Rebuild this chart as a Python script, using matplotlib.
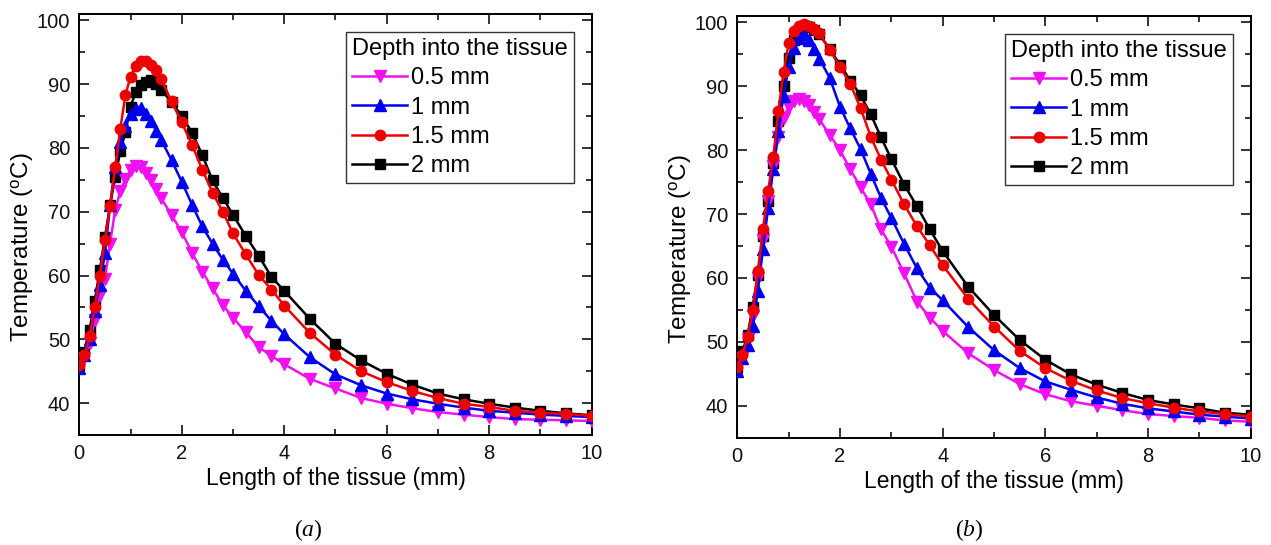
import matplotlib
matplotlib.use("Agg")
import matplotlib.pyplot as plt
from matplotlib.ticker import MultipleLocator

plt.rcParams['font.family'] = ['Liberation Sans', 'DejaVu Sans']
plt.rcParams['mathtext.fontset'] = 'custom'
plt.rcParams['mathtext.rm'] = 'Liberation Sans'
plt.rcParams['mathtext.it'] = 'Liberation Serif:italic'

# ---------------- data ----------------
x = [0, 0.1, 0.2, 0.3, 0.4, 0.5, 0.6, 0.7, 0.8, 0.9, 1.0, 1.1, 1.2, 1.3, 1.4,
     1.5, 1.6, 1.8, 2.0, 2.2, 2.4, 2.6, 2.8, 3.0, 3.25, 3.5, 3.75, 4.0, 4.5,
     5.0, 5.5, 6.0, 6.5, 7.0, 7.5, 8.0, 8.5, 9.0, 9.5, 10.0]

labels = ['0.5 mm', '1 mm', '1.5 mm', '2 mm']

# panel (a)
a_05 = [45.5, 47.0, 49.5, 53.0, 57.0, 59.5, 65.0, 70.3, 73.2, 75.2, 76.5, 77.2, 77.0, 76.1, 74.9,
        73.5, 72.1, 69.5, 66.8, 63.6, 60.6, 58.0, 55.4, 53.4, 51.1, 48.8, 47.4, 46.1, 43.8,
        42.3, 40.8, 39.9, 39.2, 38.6, 38.2, 37.8, 37.5, 37.4, 37.3, 37.2]
a_1 = [45.5, 47.5, 50.0, 54.5, 58.5, 63.5, 71.0, 77.0, 81.0, 83.5, 85.3, 86.1, 86.3, 85.4, 84.2,
       82.7, 81.2, 78.1, 74.7, 71.1, 67.7, 65.0, 62.5, 60.3, 57.6, 55.2, 52.9, 50.8, 47.2,
       44.5, 42.8, 41.5, 40.6, 39.9, 39.3, 38.8, 38.5, 38.2, 38.0, 37.8]
a_15 = [46.0, 47.5, 50.5, 55.0, 60.0, 65.6, 70.9, 77.0, 83.0, 88.3, 91.2, 92.9, 93.7, 93.6, 93.0,
        92.3, 90.8, 87.3, 84.0, 80.5, 76.6, 73.0, 70.0, 66.6, 63.3, 60.1, 57.8, 55.3, 51.0,
        47.6, 45.0, 43.3, 41.9, 40.8, 39.9, 39.4, 38.8, 38.5, 38.3, 38.0]
a_2 = [46.0, 48.0, 51.5, 56.0, 60.8, 66.0, 71.0, 75.5, 79.5, 82.5, 86.5, 88.7, 89.8, 90.4, 90.6,
       90.1, 89.1, 87.2, 85.0, 82.4, 78.9, 74.9, 72.2, 69.5, 66.2, 63.1, 59.8, 57.6, 53.2,
       49.3, 46.7, 44.6, 42.9, 41.5, 40.6, 39.9, 39.3, 38.8, 38.4, 38.1]

# panel (b)
b_05 = [46.0, 47.5, 50.5, 54.0, 60.0, 66.0, 72.0, 77.5, 82.0, 85.0, 86.8, 87.7, 88.0, 87.7, 87.0,
        86.0, 84.8, 82.4, 80.0, 77.0, 74.2, 71.5, 67.6, 64.9, 60.7, 56.3, 53.8, 51.7, 48.2,
        45.6, 43.4, 41.8, 40.7, 40.0, 39.3, 38.7, 38.4, 38.1, 37.7, 37.5]
b_1 = [45.5, 47.5, 49.5, 52.5, 58.0, 64.5, 71.0, 77.0, 83.0, 88.5, 93.0, 96.0, 97.6, 98.1, 97.3,
       95.9, 94.3, 91.3, 86.8, 83.4, 80.2, 76.3, 72.5, 69.4, 65.3, 61.5, 58.5, 56.5, 52.3,
       48.7, 45.9, 43.8, 42.5, 41.3, 40.3, 39.6, 39.1, 38.6, 38.3, 38.0]
b_15 = [46.0, 48.0, 50.8, 55.0, 61.1, 67.6, 73.6, 78.9, 86.1, 92.2, 96.7, 98.6, 99.4, 99.8, 99.5,
        98.9, 98.3, 95.7, 93.0, 90.4, 86.6, 82.1, 78.5, 75.4, 71.5, 68.1, 65.1, 62.0, 56.7,
        52.4, 48.6, 45.9, 43.9, 42.4, 41.2, 40.4, 39.7, 39.1, 38.7, 38.3]
b_2 = [46.0, 48.5, 51.0, 55.5, 60.4, 66.5, 72.0, 78.0, 84.5, 90.0, 94.5, 97.3, 98.8, 99.4, 99.3,
       98.8, 98.1, 95.8, 93.4, 90.9, 88.6, 85.6, 82.0, 78.6, 74.6, 71.2, 67.6, 64.2, 58.6,
       54.2, 50.3, 47.2, 44.9, 43.3, 42.0, 40.9, 40.2, 39.6, 38.9, 38.6]

colors = ['#f010f0', '#0000ee', '#ee0000', '#000000']
markers = ['v', '^', 'o', 's']
msizes = [8, 8, 7.5, 6.5]
zorders = [3, 4, 5, 2]

fig = plt.figure(figsize=(12.71, 5.45), dpi=100)
ax_a = fig.add_axes([0.0624, 0.2018, 0.4031, 0.7725])
ax_b = fig.add_axes([0.5801, 0.1969, 0.4039, 0.7738])

for ax, series, tag, tx in [(ax_a, [a_05, a_1, a_15, a_2], 'a', 0.2423),
                            (ax_b, [b_05, b_1, b_15, b_2], 'b', 0.763)]:
    handles = []
    for y, c, m, ms, z, lab in zip(series, colors, markers, msizes, zorders, labels):
        h, = ax.plot(x, y, color=c, marker=m, markersize=ms, linewidth=1.8,
                     label=lab, zorder=z)
        handles.append(h)
    ax.set_xlim(0, 10)
    ax.set_ylim(35, 101)
    ax.xaxis.set_major_locator(MultipleLocator(2))
    ax.xaxis.set_minor_locator(MultipleLocator(1))
    ax.yaxis.set_major_locator(MultipleLocator(10))
    ax.yaxis.set_minor_locator(MultipleLocator(5))
    ax.set_yticks([40, 50, 60, 70, 80, 90, 100])
    ax.tick_params(which='both', direction='in', top=True, right=True,
                   labelsize=14.5, width=1.2, pad=6.5, colors='#111111')
    ax.tick_params(which='major', length=7.5)
    ax.tick_params(which='minor', length=4)
    for sp in ax.spines.values():
        sp.set_linewidth(1.4)
    ax.set_xlabel('Length of the tissue (mm)', fontsize=16.5, labelpad=3)
    ax.set_ylabel(r'Temperature ($^\mathrm{o}$C)', fontsize=17.5, va='center')
    ax.yaxis.set_label_coords(-0.112, 0.447)
    leg = ax.legend(handles=handles, title='Depth into the tissue', loc='upper right',
                    bbox_to_anchor=(0.9655, 0.957), borderaxespad=0, fontsize=17,
                    title_fontsize=17, alignment='left', fancybox=False,
                    edgecolor='#333333', framealpha=1, handlelength=2.33,
                    handletextpad=0.15, labelspacing=0.31, borderpad=0.25)
    leg.get_frame().set_linewidth(1.0)
    fig.text(tx, 0.0275, r'($\mathit{' + tag + r'}$)', fontsize=17, ha='center', va='center',
             family='Liberation Serif')

fig.savefig('out.png', dpi=100)
